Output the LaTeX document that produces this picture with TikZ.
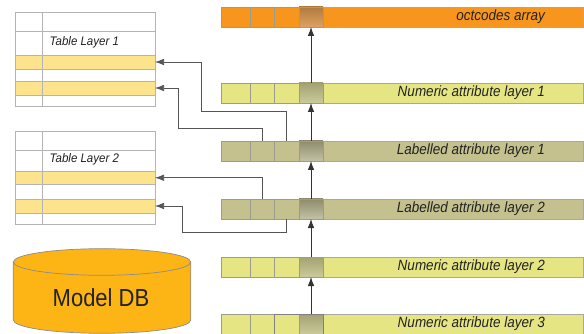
\documentclass[tikz,border=0pt]{standalone}
\usepackage{fontspec}
\setmainfont{Liberation Sans}
\usetikzlibrary{arrows.meta}
\definecolor{orangebar}{HTML}{F8951D}
\definecolor{orangehtop}{HTML}{B07B3E}
\definecolor{orangehbot}{HTML}{DDA263}
\definecolor{numfill}{HTML}{E5E583}
\definecolor{numhtop}{HTML}{A3A272}
\definecolor{numhbot}{HTML}{CACA9A}
\definecolor{labfill}{HTML}{C4C18F}
\definecolor{labhtop}{HTML}{8E8C6C}
\definecolor{labhbot}{HTML}{C3C2A6}
\definecolor{tabyellow}{HTML}{FDE48C}
\definecolor{tabline}{HTML}{B4B4B4}
\definecolor{cellgrey}{HTML}{9C9C8C}
\definecolor{bargrey}{HTML}{A8A8A0}
\definecolor{dbfill}{HTML}{FDB515}
\definecolor{dbline}{HTML}{8C8C8C}
\definecolor{connline}{HTML}{555555}
\definecolor{textdark}{HTML}{222222}
\tikzset{
  barbox/.style={draw=bargrey, line width=0.7pt, inner sep=0pt, outer sep=0pt, minimum height=20pt, minimum width=362pt, anchor=north west},
  cellbox/.style={draw=cellgrey, line width=0.7pt, inner sep=0pt, outer sep=0pt, minimum height=20pt, anchor=north west},
  rowbox/.style={draw=tabline, line width=0.7pt, inner sep=0pt, outer sep=0pt, minimum width=139.7pt, anchor=north west},
  laytext/.style={font=\fontsize{13.5}{15}\selectfont\itshape, text=textdark, inner sep=0pt, anchor=east},
  tabtext/.style={font=\fontsize{11.5}{13}\selectfont\itshape, text=textdark, inner sep=0pt, anchor=west},
  uparrow/.style={draw=black!80, line width=0.8pt, -{Latex[length=9pt,width=6.5pt]}},
  conn/.style={draw=connline, line width=0.7pt, -{Latex[length=9pt,width=6.5pt]}}
}
\newcommand\mylayer[6]{%
  \node[barbox, fill=#3] (#1) at (221,#2) {};
  \node[cellbox, minimum width=29pt] (#1-a) at (221,#2) {};
  \node[cellbox, minimum width=24pt] (#1-b) at (250,#2) {};
  \node[cellbox, minimum width=25pt] (#1-c) at (274,#2) {};
  \node[cellbox, minimum width=24pt, top color=#4, bottom color=#5] (#1-h) at (299,#2) {};
  \node[laytext] (#1-t) at (545,#2+10) {\scalebox{1}[1.1]{#6}};
}
\newcommand\trow[4]{%
  \node[rowbox, fill=#4, minimum height={(#3-#2)*1pt}] (#1) at (15.3,#2) {};
}
\begin{document}
\begin{tikzpicture}[x=1pt,y=-1pt]
\useasboundingbox (0,0) rectangle (584,334);

% layers
\mylayer{oct}{7}{orangebar}{orangehtop}{orangehbot}{octcodes array}
\mylayer{num1}{83}{numfill}{numhtop}{numhbot}{Numeric attribute layer 1}
\mylayer{lab1}{141}{labfill}{labhtop}{labhbot}{Labelled attribute layer 1}
\mylayer{lab2}{199}{labfill}{labhtop}{labhbot}{Labelled attribute layer 2}
\mylayer{num2}{257}{numfill}{numhtop}{numhbot}{Numeric attribute layer 2}
\mylayer{num3}{314}{numfill}{numhtop}{numhbot}{Numeric attribute layer 3}
\draw[draw=black!50, line width=0.8pt] (num3-c.north west) rectangle (num3-h.south east);

% table 1
\trow{t1r1}{12.7}{31}{white}
\trow{t1r2}{31}{55}{white}
\trow{t1y1}{55}{69}{tabyellow}
\trow{t1r4}{69}{81}{white}
\trow{t1y2}{81}{95}{tabyellow}
\trow{t1r6}{95}{106}{white}
\draw[tabline, line width=0.7pt] ([xshift=27pt]t1r1.north west) -- ([xshift=27pt]t1r6.south west);
\node[tabtext] (t1t) at (49.5,42) {\scalebox{1}[1.08]{Table Layer 1}};

% table 2
\trow{t2r1}{131.7}{150}{white}
\trow{t2r2}{150}{171}{white}
\trow{t2y1}{171}{184.5}{tabyellow}
\trow{t2r4}{184.5}{199}{white}
\trow{t2y2}{199}{213}{tabyellow}
\trow{t2r6}{213}{224}{white}
\draw[tabline, line width=0.7pt] ([xshift=27pt]t2r1.north west) -- ([xshift=27pt]t2r6.south west);
\node[tabtext] (t2t) at (49.5,159) {\scalebox{1}[1.08]{Table Layer 2}};

% model DB cylinder
\fill[dbfill] (13.3,262) rectangle (190.7,320);
\fill[dbfill] (102,320) ellipse [x radius=88.7pt, y radius=13.3pt];
\draw[dbline, line width=0.7pt] (13.3,262) -- (13.3,320) arc[start angle=180, end angle=360, x radius=88.7pt, y radius=13.3pt] -- (190.7,262);
\draw[dbline, line width=0.7pt, fill=dbfill] (102,262) ellipse [x radius=88.7pt, y radius=13.3pt];
\node[font=\fontsize{22}{24}\selectfont, text=textdark, inner sep=0pt] (db) at (101,298) {\scalebox{1}[1.12]{Model DB}};

% vertical arrows
\draw[uparrow] (num3-h.north) -- (num2-h.south);
\draw[uparrow] (num2-h.north) -- (lab2-h.south);
\draw[uparrow] (lab2-h.north) -- (lab1-h.south);
\draw[uparrow] (lab1-h.north) -- (num1-h.south);
\draw[uparrow] (num1-h.north) -- (oct-h.south);

% connectors to tables
\draw[conn] (lab1-c.north) |- (201,111) |- (t1y1.east);
\draw[conn] (lab1-b.north) |- (178,128) |- (t1y2.east);
\draw[conn] (lab2-b.north) |- (t2y1.east);
\draw[conn] (lab2-c.south) |- (182,232.5) |- (t2y2.east);
\end{tikzpicture}
\end{document}
